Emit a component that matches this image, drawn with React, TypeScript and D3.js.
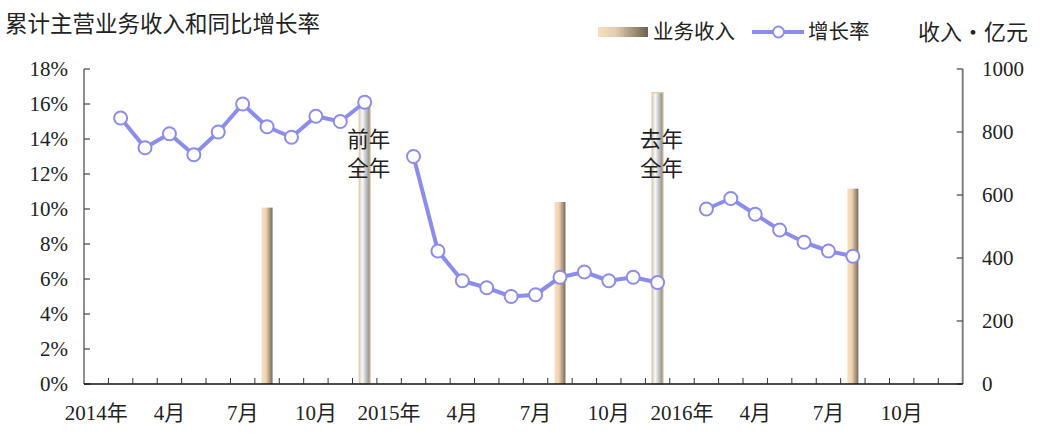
import React from "react";
import * as d3 from "d3";

const years = ["2014", "2015", "2016"];
const monthNames = ["1", "2", "3", "4", "5", "6", "7", "8", "9", "10", "11", "12"];
const categories: string[] = years.flatMap((y) => monthNames.map((m) => `${y}-${m}`));
const tickLabels: Record<string, string> = {
  "2014-1": "2014年", "2014-4": "4月", "2014-7": "7月", "2014-10": "10月",
  "2015-1": "2015年", "2015-4": "4月", "2015-7": "7月", "2015-10": "10月",
  "2016-1": "2016年", "2016-4": "4月", "2016-7": "7月", "2016-10": "10月",
};

// 累计同比增长率 (%)
const growth2014 = [null, 15.2, 13.5, 14.3, 13.1, 14.4, 16.0, 14.7, 14.1, 15.3, 15.0, 16.1];
const growth2015 = [null, 13.0, 7.6, 5.9, 5.5, 5.0, 5.1, 6.1, 6.4, 5.9, 6.1, 5.8];
const growth2016 = [null, 10.0, 10.6, 9.7, 8.8, 8.1, 7.6, 7.3, null, null, null, null];
const growth: (number | null)[] = [...growth2014, ...growth2015, ...growth2016];

// 业务收入 (亿元)
const revenueCats = ["2014-8", "2014-12", "2015-8", "2015-12", "2016-8"];
const revenueVals = [560, 910, 578, 925, 620];
const revenueKind = ["month", "year", "month", "year", "month"];
const yearLabels: Record<string, string[]> = { "2014-12": ["前年", "全年"], "2015-12": ["去年", "全年"] };

const W = 1053, H = 438;
const left = 84, right = 962.7, top = 69, bottom = 384;
const numFont = "'Liberation Serif', 'DejaVu Serif', serif";
const cjkFont = "'Liberation Serif', 'Noto Sans CJK SC', serif";
const lineColor = "#8c8cec";

export default function App() {
  const x = d3.scaleBand<string>().domain(categories).range([left, right]).padding(0);
  const yL = d3.scaleLinear().domain([0, 18]).range([bottom, top]);
  const yR = d3.scaleLinear().domain([0, 1000]).range([bottom, top]);
  const bw = x.bandwidth();
  const cx = (c: string) => (x(c) as number) + bw / 2;
  const barW = bw * 0.45;

  const line = d3
    .line<number | null>()
    .defined((d) => d !== null)
    .x((_, i) => cx(categories[i]))
    .y((d) => yL(d as number));

  const leftTicks = d3.range(0, 19, 2);
  const rightTicks = d3.range(0, 1001, 200);

  return (
    <svg width={W} height={H} style={{ position: "absolute", left: 0, top: 0, background: "#fff" }}>
      <defs>
        <linearGradient id="gMonth" x1="0" x2="1" y1="0" y2="0">
          <stop offset="0%" stopColor="#f8dfc2" />
          <stop offset="40%" stopColor="#f0d4b2" />
          <stop offset="100%" stopColor="#776959" />
        </linearGradient>
        <linearGradient id="gLegend" x1="0" x2="1" y1="0" y2="0">
          <stop offset="0%" stopColor="#f9dfbf" />
          <stop offset="35%" stopColor="#e6cdb0" />
          <stop offset="100%" stopColor="#6c6050" />
        </linearGradient>
        <linearGradient id="gYear" x1="0" x2="1" y1="0" y2="0">
          <stop offset="0%" stopColor="#cccccc" />
          <stop offset="28%" stopColor="#fafafa" />
          <stop offset="100%" stopColor="#858585" />
        </linearGradient>
      </defs>

      {/* title */}
      <text x={5} y={32} fontSize={22.5} fontFamily={cjkFont} fill="#222">累计主营业务收入和同比增长率</text>

      {/* legend */}
      <rect x={598} y={27} width={50} height={10} fill="url(#gLegend)" />
      <text x={653} y={39} fontSize={20.5} fontFamily={cjkFont} fill="#222">业务收入</text>
      <line x1={752} x2={804} y1={32} y2={32} stroke={lineColor} strokeWidth={4} />
      <circle cx={778.5} cy={32} r={5.5} fill="#fff" stroke={lineColor} strokeWidth={2} />
      <text x={808} y={39} fontSize={20.5} fontFamily={cjkFont} fill="#222">增长率</text>
      <text x={1028} y={40} fontSize={22} fontFamily={cjkFont} fill="#222" textAnchor="end">收入・亿元</text>

      {/* bars */}
      {revenueCats.map((c, i) => {
        const bx = cx(c) - barW / 2;
        const by = yR(revenueVals[i]);
        const isYear = revenueKind[i] === "year";
        return (
          <rect
            key={c}
            x={bx}
            y={by}
            width={barW}
            height={bottom - by}
            fill={isYear ? "url(#gYear)" : "url(#gMonth)"}
            stroke={isYear ? "#e9c99e" : "none"}
            strokeWidth={isYear ? 1.2 : 0}
          />
        );
      })}

      {/* full-year labels */}
      {Object.entries(yearLabels).map(([c, lines]) =>
        lines.map((t, j) => (
          <text key={c + j} x={cx(c) + 4} y={147 + j * 29} fontSize={21.5} fontFamily={cjkFont} textAnchor="middle" fill="#222">
            {t}
          </text>
        ))
      )}

      {/* axes */}
      <line x1={left} x2={left} y1={top} y2={bottom} stroke="#444" strokeWidth={1.2} />
      {leftTicks.map((t) => (
        <g key={"l" + t}>
          <line x1={left} x2={left + 6} y1={yL(t)} y2={yL(t)} stroke="#444" strokeWidth={1.2} />
          <text x={68} y={yL(t)} dy="0.35em" textAnchor="end" fontSize={21} fontFamily={numFont} fill="#222">
            {t}%
          </text>
        </g>
      ))}
      <line x1={right} x2={right} y1={top} y2={bottom} stroke="#808080" strokeWidth={2} />
      {rightTicks.map((t) => (
        <g key={"r" + t}>
          <line x1={right - 6} x2={right} y1={yR(t)} y2={yR(t)} stroke="#444" strokeWidth={1.2} />
          <text x={982} y={yR(t)} dy="0.35em" textAnchor="start" fontSize={21} fontFamily={numFont} fill="#222">
            {t}
          </text>
        </g>
      ))}
      <line x1={left} x2={right} y1={bottom} y2={bottom} stroke="#111" strokeWidth={1.5} />
      {categories.map((c, i) =>
        i === 0 ? null : (
          <line key={"t" + c} x1={x(c) as number} x2={x(c) as number} y1={bottom - 6} y2={bottom} stroke="#333" strokeWidth={1} />
        )
      )}
      {categories.map((c) =>
        tickLabels[c] ? (
          <text key={"xl" + c} x={cx(c)} y={420} textAnchor="middle" fontSize={21} fontFamily={cjkFont} fill="#222">
            {tickLabels[c]}
          </text>
        ) : null
      )}

      {/* growth line */}
      <path d={line(growth) || ""} fill="none" stroke={lineColor} strokeWidth={4} strokeLinejoin="round" />
      {growth.map((g, i) =>
        g === null ? null : (
          <circle key={"p" + i} cx={cx(categories[i])} cy={yL(g)} r={6.5} fill="#fff" stroke={lineColor} strokeWidth={2} />
        )
      )}
    </svg>
  );
}
